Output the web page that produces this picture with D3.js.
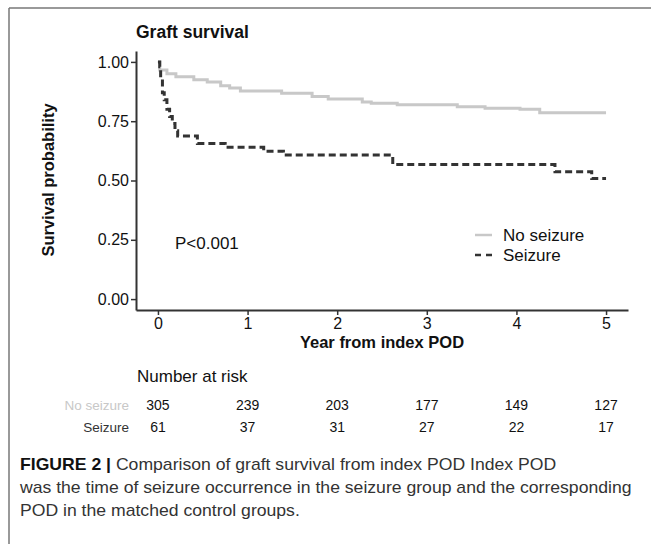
<!DOCTYPE html>
<html lang="en">
<head>
    <meta charset="utf-8">
    <script src="https://d3js.org/d3.v7.min.js"></script>
    <style>
        body { margin: 0; background: #fff; }
        text { font-family: "Liberation Sans", Arial, sans-serif; }
    </style>
</head>
<body>
    <div id="chart"></div>

    <script>
        // Kaplan-Meier steps (time in years, survival probability)
        const noSeizureTime = [0, 0.02, 0.1, 0.2, 0.4, 0.55, 0.7, 0.8, 0.92, 1.38, 1.72, 1.9, 2.28, 2.38, 2.67, 3.34, 3.65, 4.04, 4.26, 5];
        const noSeizureSurv = [1.0, 0.966, 0.95, 0.937, 0.925, 0.915, 0.9, 0.89, 0.877, 0.868, 0.854, 0.844, 0.831, 0.826, 0.819, 0.811, 0.805, 0.8, 0.786, 0.786];
        const seizureTime = [0, 0.02, 0.03, 0.05, 0.07, 0.1, 0.13, 0.16, 0.19, 0.22, 0.44, 0.75, 1.18, 1.4, 2.62, 4.43, 4.84, 5];
        const seizureSurv = [1.0, 0.98, 0.93, 0.87, 0.84, 0.8, 0.77, 0.74, 0.71, 0.688, 0.656, 0.64, 0.623, 0.607, 0.567, 0.537, 0.508, 0.508];

        // risk table
        const riskTimes = [0, 1, 2, 3, 4, 5];
        const riskNoSeizure = [305, 239, 203, 177, 149, 127];
        const riskSeizure = [61, 37, 31, 27, 22, 17];

        const yTicks = [0, 0.25, 0.5, 0.75, 1];
        const xTicks = [0, 1, 2, 3, 4, 5];

        const width = 651;
        const height = 544;

        const svg = d3.select("#chart").append("svg")
            .attr("width", width)
            .attr("height", height);

        // frame (cropped panel border, top and left)
        svg.append("line").attr("x1", 9).attr("x2", width).attr("y1", 8).attr("y2", 8)
            .attr("stroke", "#777").attr("stroke-width", 1.5);
        svg.append("line").attr("x1", 9).attr("x2", 9).attr("y1", 8).attr("y2", height)
            .attr("stroke", "#777").attr("stroke-width", 1.5);

        // scales
        const x = d3.scaleLinear().domain([-0.245, 5.245]).range([136, 628]);
        const y = d3.scaleLinear().domain([-0.046, 1.046]).range([310, 51]);

        // axes
        const yAxis = svg.append("g")
            .attr("transform", "translate(136,0)")
            .call(d3.axisLeft(y).tickValues(yTicks).tickFormat(d3.format(".2f"))
                .tickSizeInner(5).tickSizeOuter(0).tickPadding(2));
        const xAxis = svg.append("g")
            .attr("transform", "translate(0,310)")
            .call(d3.axisBottom(x).tickValues(xTicks).tickFormat(d3.format("d"))
                .tickSizeInner(5).tickSizeOuter(0).tickPadding(3));

        [yAxis, xAxis].forEach(g => {
            g.select(".domain").attr("stroke", "#333").attr("stroke-width", 2);
            g.selectAll(".tick line").attr("stroke", "#333").attr("stroke-width", 1.5);
            g.selectAll(".tick text").attr("fill", "#111").attr("font-size", 16)
                .style("font-family", "Liberation Sans, Arial, sans-serif");
        });

        // survival curves
        const line = d3.line()
            .x(d => x(d[0]))
            .y(d => y(d[1]))
            .curve(d3.curveStepAfter);

        const noSeizure = noSeizureTime.map((t, i) => [t, noSeizureSurv[i]]);
        const seizure = seizureTime.map((t, i) => [t, seizureSurv[i]]);

        svg.append("path")
            .datum(noSeizure)
            .attr("fill", "none").attr("stroke", "#c8c8c8").attr("stroke-width", 3)
            .attr("d", line);

        svg.append("path")
            .datum(seizure)
            .attr("fill", "none").attr("stroke", "#333").attr("stroke-width", 3)
            .attr("stroke-dasharray", "7,4")
            .attr("d", line);

        // title and axis titles
        svg.append("text").attr("x", 136).attr("y", 38)
            .attr("font-size", 17.5).attr("font-weight", "bold").attr("fill", "#111")
            .text("Graft survival");

        svg.append("text")
            .attr("transform", "translate(54,180) rotate(-90)")
            .attr("text-anchor", "middle")
            .attr("font-size", 16.5).attr("font-weight", "bold").attr("fill", "#111")
            .text("Survival probability");

        svg.append("text").attr("x", 382).attr("y", 348)
            .attr("text-anchor", "middle")
            .attr("font-size", 16.5).attr("font-weight", "bold").attr("fill", "#111")
            .text("Year from index POD");

        // p-value
        svg.append("text").attr("x", 175).attr("y", 249)
            .attr("font-size", 17).attr("fill", "#111")
            .text("P<0.001");

        // legend
        const legend = svg.append("g");
        legend.append("line").attr("x1", 475).attr("x2", 492).attr("y1", 235).attr("y2", 235)
            .attr("stroke", "#c8c8c8").attr("stroke-width", 2.5);
        legend.append("line").attr("x1", 475).attr("x2", 492).attr("y1", 255).attr("y2", 255)
            .attr("stroke", "#333").attr("stroke-width", 2.5).attr("stroke-dasharray", "6,5");
        legend.append("text").attr("x", 503).attr("y", 241)
            .attr("font-size", 17).attr("fill", "#111").text("No seizure");
        legend.append("text").attr("x", 503).attr("y", 261)
            .attr("font-size", 17).attr("fill", "#111").text("Seizure");

        // number at risk table
        svg.append("text").attr("x", 137).attr("y", 382)
            .attr("font-size", 17).attr("fill", "#111").text("Number at risk");

        svg.append("text").attr("x", 129).attr("y", 410)
            .attr("text-anchor", "end").attr("font-size", 13.5).attr("fill", "#c8c8c8")
            .text("No seizure");
        svg.append("text").attr("x", 129).attr("y", 432)
            .attr("text-anchor", "end").attr("font-size", 13.5).attr("fill", "#333")
            .text("Seizure");

        svg.selectAll(".riskNo")
            .data(riskNoSeizure)
            .enter()
            .append("text")
            .attr("class", "riskNo")
            .attr("x", (d, i) => x(riskTimes[i])).attr("y", 410)
            .attr("text-anchor", "middle").attr("font-size", 14).attr("fill", "#111")
            .text(d => d);

        svg.selectAll(".riskSz")
            .data(riskSeizure)
            .enter()
            .append("text")
            .attr("class", "riskSz")
            .attr("x", (d, i) => x(riskTimes[i])).attr("y", 432)
            .attr("text-anchor", "middle").attr("font-size", 14).attr("fill", "#111")
            .text(d => d);

        // caption: the figure uses a condensed face, so squeeze all lines by the same factor
        const capLines = [
            [["FIGURE 2 | ", true], ["Comparison of graft survival from index POD Index POD", false]],
            [["was the time of seizure occurrence in the seizure group and the corresponding", false]],
            [["POD in the matched control groups.", false]]
        ];
        const capGroups = capLines.map((parts, i) => {
            const g = svg.append("g");
            const t = g.append("text").attr("x", 0).attr("y", 0)
                .attr("font-size", 17).attr("fill", "#333");
            parts.forEach(p => {
                t.append("tspan")
                    .attr("font-weight", p[1] ? "bold" : "normal")
                    .attr("fill", p[1] ? "#111" : "#333")
                    .text(p[0]);
            });
            return { g: g, t: t, yPos: 470 + i * 23 };
        });
        const squeeze = 612 / capGroups[1].t.node().getComputedTextLength();
        capGroups.forEach(c => {
            c.g.attr("transform", `translate(20,${c.yPos}) scale(${squeeze},1)`);
        });
    </script>
</body>
</html>
